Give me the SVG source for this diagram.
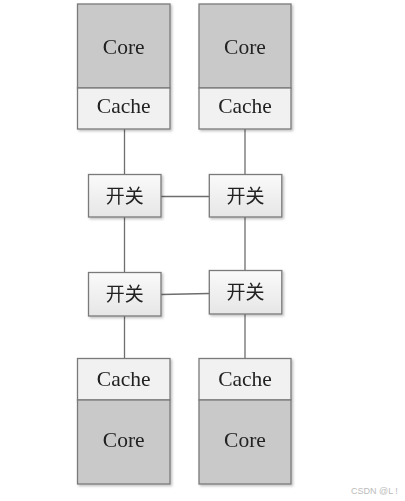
<svg xmlns="http://www.w3.org/2000/svg" width="405" height="501" viewBox="0 0 405 501">
<defs>
<linearGradient id="sw" x1="0" y1="0" x2="0" y2="1"><stop offset="0" stop-color="#fafafa"/><stop offset="1" stop-color="#e6e6e6"/></linearGradient>
<filter id="sh" x="-10%" y="-10%" width="130%" height="130%"><feDropShadow dx="1.5" dy="1.5" stdDeviation="1" flood-color="#000" flood-opacity="0.25"/></filter>
</defs>
<style>
.core{fill:#c9c9c9;stroke:#7a7a7a;stroke-width:1.3}
.cache{fill:#f1f1f1;stroke:#7a7a7a;stroke-width:1.3}
.sw{fill:url(#sw);stroke:#7a7a7a;stroke-width:1.3}
.t{font-family:"Liberation Serif",serif;font-size:21.5px;fill:#222;text-anchor:middle}
.c{font-family:"Noto Sans CJK SC",sans-serif;font-size:19px;fill:#222;text-anchor:middle}
.ln{stroke:#6e6e6e;stroke-width:1.3;fill:none}
.wm{font-family:"Liberation Sans",sans-serif;font-size:9px;fill:#bbb}
</style>
<rect width="405" height="501" fill="#fff"/>
<g id="connectors">
<line class="ln" x1="124.5" y1="129" x2="124.5" y2="174"/>
<line class="ln" x1="245" y1="129" x2="245" y2="174"/>
<line class="ln" x1="124.5" y1="217" x2="124.5" y2="272"/>
<line class="ln" x1="245" y1="217" x2="245" y2="270"/>
<line class="ln" x1="124.5" y1="316" x2="124.5" y2="358"/>
<line class="ln" x1="245" y1="314" x2="245" y2="358"/>
<line class="ln" x1="161" y1="196.5" x2="209" y2="196.5"/>
<line class="ln" x1="161" y1="294.5" x2="209" y2="293.5"/>
</g>
<g id="pe-top-left" filter="url(#sh)">
<rect class="core" x="77.5" y="4" width="92.5" height="84"/>
<rect class="cache" x="77.5" y="88" width="92.5" height="41"/>
<text class="t" x="123.7" y="53.5">Core</text>
<text class="t" x="123.7" y="113">Cache</text>
</g>
<g id="pe-top-right" filter="url(#sh)">
<rect class="core" x="199" y="4" width="92" height="84"/>
<rect class="cache" x="199" y="88" width="92" height="41"/>
<text class="t" x="245" y="53.5">Core</text>
<text class="t" x="245" y="113">Cache</text>
</g>
<g id="switch-1" filter="url(#sh)">
<rect class="sw" x="88.5" y="174.5" width="72.5" height="42.5"/>
<text class="c" x="124.7" y="203">开关</text>
</g>
<g id="switch-2" filter="url(#sh)">
<rect class="sw" x="209.3" y="174.5" width="72.5" height="42.5"/>
<text class="c" x="245.5" y="203">开关</text>
</g>
<g id="switch-3" filter="url(#sh)">
<rect class="sw" x="88.5" y="272.5" width="72.5" height="43.5"/>
<text class="c" x="124.7" y="301">开关</text>
</g>
<g id="switch-4" filter="url(#sh)">
<rect class="sw" x="209.3" y="270.5" width="72.5" height="43.5"/>
<text class="c" x="245.5" y="299">开关</text>
</g>
<g id="pe-bottom-left" filter="url(#sh)">
<rect class="cache" x="77.5" y="358.5" width="92.5" height="41.5"/>
<rect class="core" x="77.5" y="400" width="92.5" height="84"/>
<text class="t" x="123.7" y="385.5">Cache</text>
<text class="t" x="123.7" y="447">Core</text>
</g>
<g id="pe-bottom-right" filter="url(#sh)">
<rect class="cache" x="199" y="358.5" width="92" height="41.5"/>
<rect class="core" x="199" y="400" width="92" height="84"/>
<text class="t" x="245" y="385.5">Cache</text>
<text class="t" x="245" y="447">Core</text>
</g>
<text class="wm" x="351" y="494">CSDN @L !</text>
</svg>
